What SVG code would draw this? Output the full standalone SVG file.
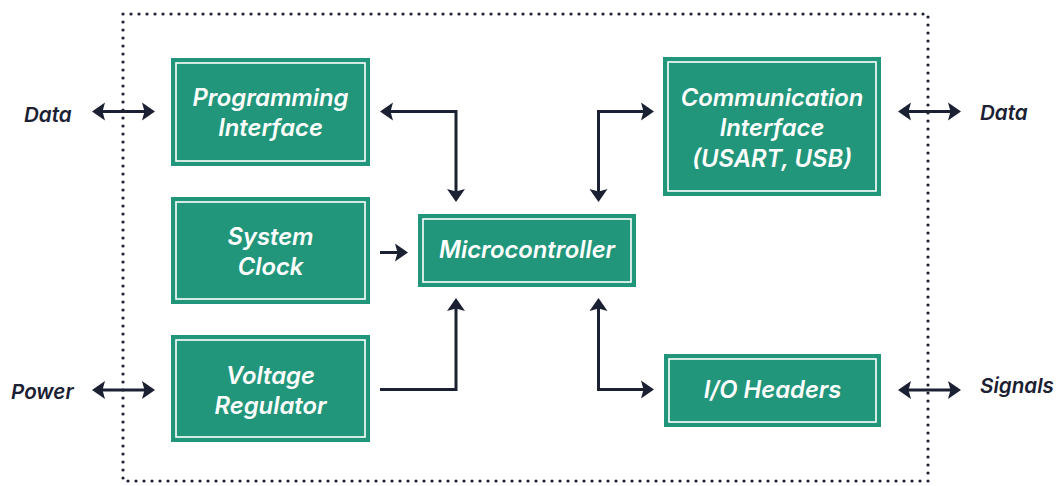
<svg xmlns="http://www.w3.org/2000/svg" width="1057" height="486" viewBox="0 0 1057 486">
<style>
.box{fill:#22967b;}
.inner{fill:none;stroke:#ffffff;stroke-width:1.6;}
.lbl{font-family:Inter,"Liberation Sans",sans-serif;font-style:italic;font-weight:600;font-size:23.8px;fill:#ffffff;text-anchor:middle;}
.ext{font-family:Inter,"Liberation Sans",sans-serif;font-style:italic;font-weight:600;font-size:20.6px;fill:#1b2033;}
.wire{fill:none;stroke:#1b2033;stroke-width:3;}
</style>
<defs>
<marker id="ah" markerUnits="userSpaceOnUse" markerWidth="16" markerHeight="20" viewBox="0 -10 16 20" refX="9" refY="0" orient="auto-start-reverse">
<path d="M0,-9 L13,0 L0,9 L2.5,0 Z" fill="#1b2033"/>
</marker>
</defs>
<rect x="123" y="14" width="805" height="467" fill="none" stroke="#1b2033" stroke-width="3.2" stroke-dasharray="0 8" stroke-linecap="round"/>
<g id="programming">
<rect class="box" x="171" y="58" width="199" height="108"/>
<rect class="inner" x="176" y="63" width="189" height="98"/>
<text class="lbl" x="270.5" y="106">Programming</text>
<text class="lbl" x="270.5" y="136">Interface</text>
</g>
<g id="clock">
<rect class="box" x="171" y="197" width="199" height="107"/>
<rect class="inner" x="176" y="202" width="189" height="97"/>
<text class="lbl" x="270.5" y="245">System</text>
<text class="lbl" x="270.5" y="275">Clock</text>
</g>
<g id="regulator">
<rect class="box" x="171" y="335" width="199" height="107"/>
<rect class="inner" x="176" y="340" width="189" height="97"/>
<text class="lbl" x="270.5" y="384">Voltage</text>
<text class="lbl" x="270.5" y="414">Regulator</text>
</g>
<g id="micro">
<rect class="box" x="418" y="214" width="218" height="73"/>
<rect class="inner" x="423" y="219" width="208" height="63"/>
<text class="lbl" x="527" y="258">Microcontroller</text>
</g>
<g id="comm">
<rect class="box" x="663" y="57" width="218" height="139"/>
<rect class="inner" x="668" y="62" width="208" height="129"/>
<text class="lbl" x="772" y="106">Communication</text>
<text class="lbl" x="772" y="136">Interface</text>
<text class="lbl" x="772" y="167">(USART, USB)</text>
</g>
<g id="io">
<rect class="box" x="664" y="354" width="217" height="73"/>
<rect class="inner" x="669" y="359" width="207" height="63"/>
<text class="lbl" x="772.5" y="398">I/O Headers</text>
</g>
<g id="labels">
<text class="ext" x="24" y="121.5">Data</text>
<text class="ext" x="11" y="398.5">Power</text>
<text class="ext" x="980" y="119.5">Data</text>
<text class="ext" x="980" y="393">Signals</text>
</g>
<g id="connectors">
<path class="wire" d="M96,111.5 L151,111.5" marker-start="url(#ah)" marker-end="url(#ah)"/>
<path class="wire" d="M96,390 L151,390" marker-start="url(#ah)" marker-end="url(#ah)"/>
<path class="wire" d="M902,111.5 L957,111.5" marker-start="url(#ah)" marker-end="url(#ah)"/>
<path class="wire" d="M902,390 L957,390" marker-start="url(#ah)" marker-end="url(#ah)"/>
<path class="wire" d="M384,111.5 L456,111.5 L456,198" marker-start="url(#ah)" marker-end="url(#ah)"/>
<path class="wire" d="M380,252.5 L404,252.5" marker-end="url(#ah)"/>
<path class="wire" d="M380,389.5 L456,389.5 L456,302" marker-end="url(#ah)"/>
<path class="wire" d="M598.5,198 L598.5,111.5 L650,111.5" marker-start="url(#ah)" marker-end="url(#ah)"/>
<path class="wire" d="M598.5,302 L598.5,389.5 L650,389.5" marker-start="url(#ah)" marker-end="url(#ah)"/>
</g>
</svg>
